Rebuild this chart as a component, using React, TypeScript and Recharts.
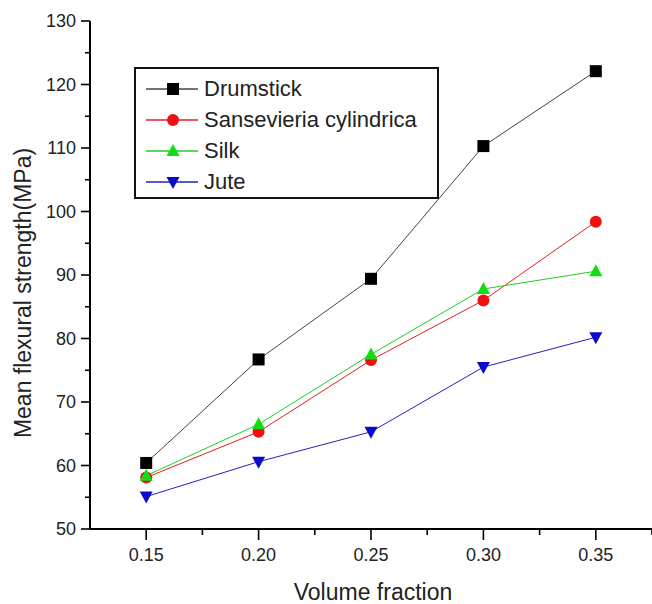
import React from 'react';
import { LineChart, Line, XAxis, YAxis, Legend } from 'recharts';

// Volume fraction of fibre (x) and mean flexural strength in MPa (y)
const volumeFraction = [0.15, 0.2, 0.25, 0.3, 0.35];
const drumstick = [60.4, 76.7, 89.4, 110.3, 122.1];
const sansevieria = [58.1, 65.3, 76.6, 86.0, 98.4];
const silk = [58.4, 66.5, 77.5, 87.8, 90.6];
const jute = [55.1, 60.6, 65.3, 75.5, 80.2];

const xTicks = [0.15, 0.175, 0.2, 0.225, 0.25, 0.275, 0.3, 0.325, 0.35, 0.375];
const xMajor = [0.15, 0.2, 0.25, 0.3, 0.35];
const yTicks = [50, 55, 60, 65, 70, 75, 80, 85, 90, 95, 100, 105, 110, 115, 120, 125, 130];

const FONT = '"Liberation Sans", Arial, sans-serif';
const TEXT = '#222';

type Shape = 'square' | 'circle' | 'up' | 'down';

const series: { key: string; name: string; line: string; fill: string; shape: Shape; values: number[] }[] = [
  { key: 'drumstick', name: 'Drumstick', line: '#444', fill: '#000', shape: 'square', values: drumstick },
  { key: 'sansevieria', name: 'Sansevieria cylindrica', line: '#e02020', fill: '#ee1111', shape: 'circle', values: sansevieria },
  { key: 'silk', name: 'Silk', line: '#22cc22', fill: '#11dd11', shape: 'up', values: silk },
  { key: 'jute', name: 'Jute', line: '#2222bb', fill: '#0a0acc', shape: 'down', values: jute },
];

const data = volumeFraction.map((v, i) => {
  const row: Record<string, number> = { vf: v };
  series.forEach((s) => {
    row[s.key] = s.values[i];
  });
  return row;
});

function Marker({ cx, cy, shape, fill }: { cx: number; cy: number; shape: Shape; fill: string }) {
  if (cx == null || cy == null) return null;
  if (shape === 'square') return <rect x={cx - 6} y={cy - 6} width={12} height={12} fill={fill} />;
  if (shape === 'circle') return <circle cx={cx} cy={cy} r={6} fill={fill} />;
  if (shape === 'up')
    return <polygon points={`${cx},${cy - 7} ${cx + 6.5},${cy + 5} ${cx - 6.5},${cy + 5}`} fill={fill} />;
  return <polygon points={`${cx},${cy + 7} ${cx + 6.5},${cy - 5} ${cx - 6.5},${cy - 5}`} fill={fill} />;
}

const YTick = (props: any) => {
  const { x, y, payload } = props;
  const major = payload.value % 10 === 0;
  return (
    <g>
      <line x1={x} x2={x - (major ? 9 : 5)} y1={y} y2={y} stroke="#000" strokeWidth={1.6} />
      {major && (
        <text x={x - 14} y={y} dy="0.35em" textAnchor="end" fontSize={18} fill={TEXT} fontFamily={FONT}>
          {payload.value}
        </text>
      )}
    </g>
  );
};

const XTick = (props: any) => {
  const { x, y, payload } = props;
  const major = xMajor.some((m) => Math.abs(m - payload.value) < 1e-6);
  return (
    <g>
      <line x1={x} x2={x} y1={y} y2={y + (major ? 11 : 6)} stroke="#000" strokeWidth={1.6} />
      {major && (
        <text x={x} y={y + 26} dy="0.35em" textAnchor="middle" fontSize={18} fill={TEXT} fontFamily={FONT}>
          {payload.value.toFixed(2)}
        </text>
      )}
    </g>
  );
};

const LegendBox = () => (
  <div
    style={{
      width: 301,
      height: 128,
      border: '2px solid #111',
      background: '#fff',
      position: 'relative',
      fontFamily: FONT,
      fontSize: 22,
      color: TEXT,
    }}
  >
    {series.map((s, i) => (
      <div
        key={s.key}
        style={{ position: 'absolute', left: 0, top: 20 + i * 31 - 15, height: 30, display: 'flex', alignItems: 'center' }}
      >
        <svg width={66} height={30} style={{ display: 'block' }}>
          <line x1={10} x2={62} y1={15} y2={15} stroke={s.line} strokeWidth={1.5} />
          <Marker cx={37} cy={15} shape={s.shape} fill={s.fill} />
        </svg>
        <span style={{ marginLeft: 2, lineHeight: '30px', whiteSpace: 'nowrap' }}>{s.name}</span>
      </div>
    ))}
  </div>
);

export default function App() {
  return (
    <div style={{ position: 'absolute', left: 0, top: 0, background: '#fff' }}>
      <LineChart width={652} height={604} data={data} margin={{ top: 21, right: 0, bottom: 0, left: 0 }}>
        <XAxis
          dataKey="vf"
          type="number"
          domain={[0.125, 0.375]}
          ticks={xTicks}
          interval={0}
          tickSize={0}
          tickMargin={0}
          tickLine={false}
          tick={<XTick />}
          axisLine={{ stroke: '#000', strokeWidth: 2 }}
          height={75}
          label={{
            content: () => (
              <text x={373} y={592} dy="0.35em" textAnchor="middle" fontSize={23} fill={TEXT} fontFamily={FONT}>
                Volume fraction
              </text>
            ),
          }}
        />
        <YAxis
          type="number"
          domain={[50, 130]}
          ticks={yTicks}
          interval={0}
          tickSize={0}
          tickMargin={0}
          tickLine={false}
          tick={<YTick />}
          axisLine={{ stroke: '#000', strokeWidth: 2 }}
          width={90}
          label={{
            content: () => (
              <text
                x={23}
                y={293}
                dy="0.35em"
                textAnchor="middle"
                fontSize={23}
                fill={TEXT}
                fontFamily={FONT}
                transform="rotate(-90 23 293)"
              >
                Mean flexural strength(MPa)
              </text>
            ),
          }}
        />
        <Legend
          layout="vertical"
          align="center"
          verticalAlign="middle"
          content={<LegendBox />}
          wrapperStyle={{ position: 'absolute', left: 134, top: 67, width: 305, height: 132 }}
        />
        {series.map((s) => (
          <Line
            key={s.key}
            dataKey={s.key}
            name={s.name}
            stroke={s.line}
            strokeWidth={1}
            isAnimationActive={false}
            dot={(p: any) => <Marker key={`${s.key}-${p.index}`} cx={p.cx} cy={p.cy} shape={s.shape} fill={s.fill} />}
            activeDot={false}
          />
        ))}
      </LineChart>
    </div>
  );
}
